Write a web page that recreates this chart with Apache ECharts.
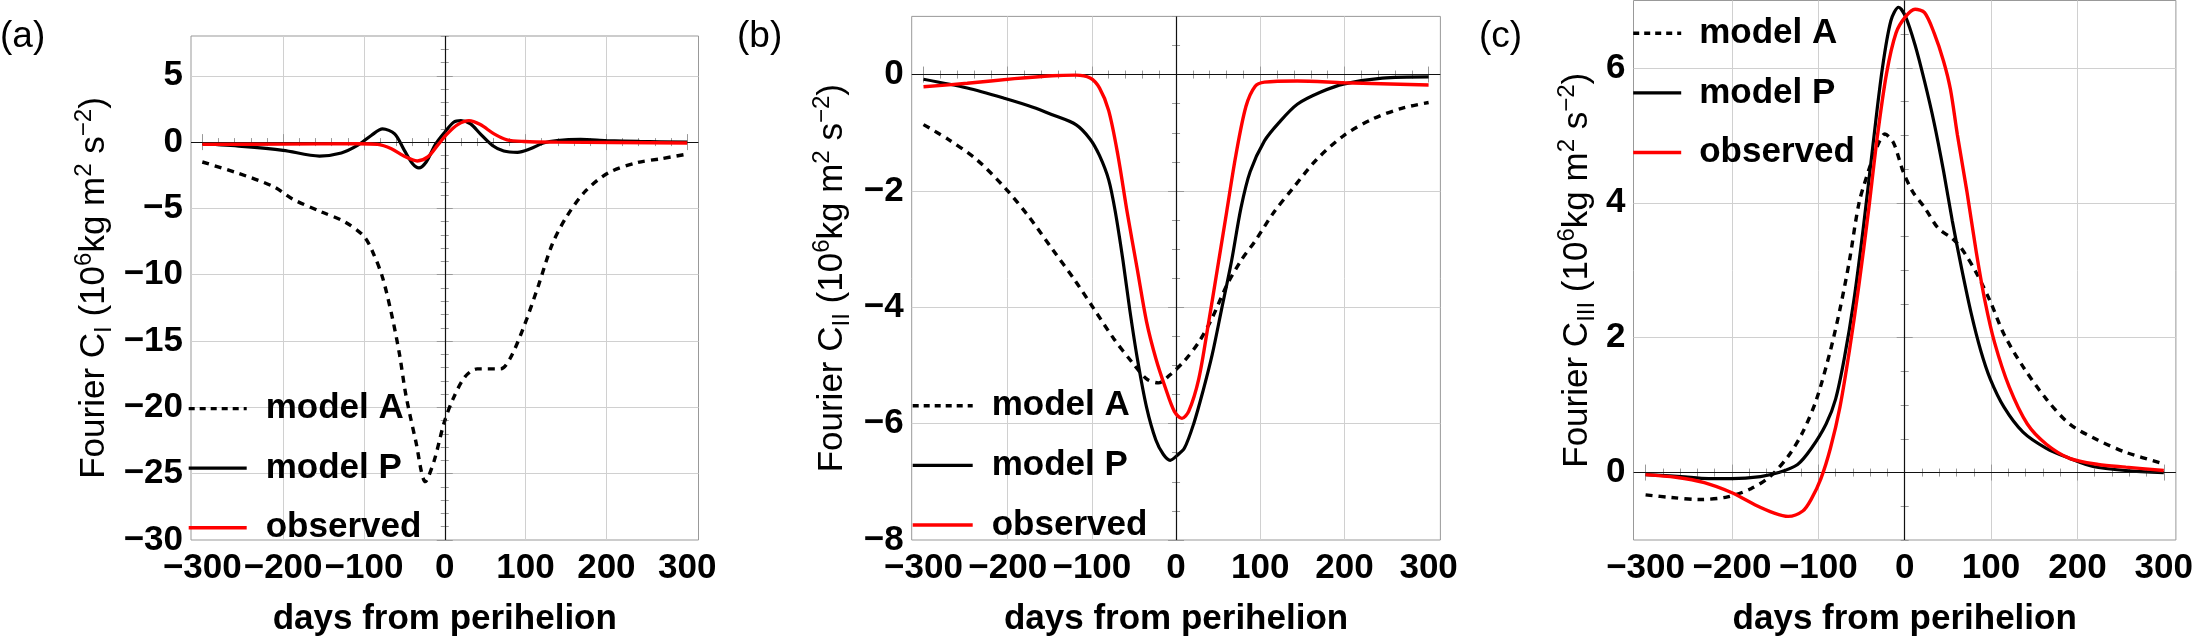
<!DOCTYPE html>
<html><head><meta charset="utf-8">
<script src="https://cdn.jsdelivr.net/npm/echarts@6/dist/echarts.min.js"></script>
<style>html,body{margin:0;padding:0;background:#fff}#c{width:2196px;height:644px}</style>
</head><body><div id="c"></div><script>
// ---------- data (days from perihelion, value in 10^6 kg m^2 s^-2) ----------
const seriesNames = ['model A', 'model P', 'observed'];

const aModelA = [[-300,-1.5],[-258,-2.3],[-212,-3.35],[-188,-4.3],[-153,-5.25],[-124,-6.0],[-100,-7.1],[-89,-8.3],[-77,-10.2],[-65,-13.2],[-56,-16.0],[-48,-19.1],[-36,-22.5],[-24,-25.6],[-13,-24.0],[-1,-21.2],[10,-19.4],[25,-17.7],[40,-17.1],[69,-17.1],[81,-16.3],[98,-13.9],[116,-10.8],[133,-7.7],[151,-5.6],[174,-3.7],[203,-2.3],[238,-1.55],[268,-1.25],[300,-0.9]];
const aModelP = [[-300,-0.12],[-251,-0.32],[-200,-0.62],[-155,-1.05],[-128,-0.82],[-108,-0.25],[-91,0.5],[-77,1.0],[-62,0.62],[-50,-0.62],[-40,-1.62],[-32,-1.95],[-23,-1.5],[-11,-0.12],[0,0.75],[11,1.5],[20,1.62],[32,1.37],[44,0.62],[59,-0.25],[73,-0.67],[90,-0.77],[106,-0.5],[122,-0.07],[139,0.12],[168,0.2],[200,0.12],[241,0.05],[300,0.0]];
const aObserved = [[-300,-0.17],[-200,-0.15],[-108,-0.12],[-83,-0.17],[-66,-0.5],[-50,-1.07],[-34,-1.42],[-21,-1.12],[-9,-0.25],[3,0.62],[16,1.32],[30,1.62],[44,1.32],[61,0.62],[77,0.17],[98,0.05],[139,0.0],[300,-0.07]];

const bModelA = [[-300,-0.86],[-271,-1.11],[-237,-1.46],[-203,-1.95],[-175,-2.44],[-147,-3.0],[-119,-3.56],[-97,-4.04],[-74,-4.54],[-52,-4.95],[-35,-5.23],[-21,-5.3],[-7,-5.16],[10,-4.92],[27,-4.6],[43,-4.18],[60,-3.63],[77,-3.2],[94,-2.86],[116,-2.37],[139,-1.95],[167,-1.46],[200,-1.04],[234,-0.76],[268,-0.58],[300,-0.48]];
const bModelP = [[-300,-0.08],[-248,-0.23],[-203,-0.41],[-170,-0.56],[-147,-0.69],[-119,-0.86],[-102,-1.11],[-91,-1.39],[-80,-1.81],[-72,-2.37],[-63,-3.2],[-55,-4.04],[-46,-4.88],[-35,-5.72],[-24,-6.28],[-15,-6.53],[-7,-6.63],[1,-6.55],[10,-6.42],[21,-6.0],[32,-5.44],[43,-4.81],[54,-4.04],[66,-3.2],[77,-2.3],[88,-1.67],[105,-1.14],[122,-0.83],[144,-0.51],[172,-0.3],[200,-0.16],[245,-0.06],[300,-0.04]];
const bObserved = [[-300,-0.21],[-248,-0.15],[-192,-0.07],[-147,-0.02],[-119,-0.01],[-102,-0.06],[-91,-0.23],[-80,-0.62],[-69,-1.39],[-58,-2.37],[-46,-3.35],[-35,-4.25],[-24,-4.88],[-13,-5.37],[-2,-5.79],[7,-5.91],[15,-5.79],[27,-5.23],[38,-4.32],[49,-3.35],[60,-2.37],[71,-1.39],[83,-0.55],[94,-0.2],[105,-0.13],[144,-0.11],[200,-0.14],[300,-0.18]];

const cModelA = [[-300,-0.33],[-270,-0.37],[-238,-0.4],[-205,-0.36],[-178,-0.24],[-156,-0.06],[-135,0.24],[-118,0.6],[-102,1.09],[-86,1.81],[-75,2.42],[-64,3.14],[-53,3.99],[-42,4.47],[-32,4.83],[-23,5.02],[-13,4.89],[-2,4.47],[9,4.17],[23,3.93],[39,3.62],[55,3.47],[66,3.32],[83,2.96],[99,2.54],[115,2.05],[137,1.57],[164,1.09],[191,0.72],[224,0.48],[256,0.3],[300,0.13]];
const cModelP = [[-300,-0.03],[-259,-0.06],[-227,-0.09],[-200,-0.09],[-167,-0.06],[-146,0.0],[-124,0.12],[-108,0.36],[-91,0.72],[-80,1.09],[-70,1.69],[-59,2.54],[-48,3.62],[-37,4.83],[-26,5.98],[-16,6.7],[-7,6.9],[1,6.76],[12,6.34],[23,5.8],[34,5.19],[45,4.47],[55,3.74],[66,3.02],[77,2.36],[88,1.81],[99,1.39],[115,0.97],[137,0.6],[164,0.36],[191,0.21],[218,0.09],[256,0.03],[300,0.0]];
const cObserved = [[-300,-0.03],[-265,-0.07],[-232,-0.15],[-200,-0.3],[-173,-0.48],[-151,-0.6],[-135,-0.65],[-118,-0.57],[-108,-0.39],[-97,-0.09],[-86,0.36],[-75,0.97],[-64,1.81],[-53,2.78],[-42,3.87],[-32,4.95],[-21,5.92],[-10,6.52],[1,6.76],[12,6.87],[23,6.82],[34,6.52],[45,6.1],[53,5.68],[61,5.01],[72,4.17],[83,3.26],[93,2.54],[104,1.93],[121,1.27],[142,0.72],[164,0.42],[191,0.21],[224,0.12],[256,0.08],[300,0.03]];

// ---------- ticks ----------
const xTickLabels = [-300,-200,-100,0,100,200,300];
const xGridValues = [-200,-100,0,100,200];
const xMinorTicks = [-300,-280,-260,-240,-220,-200,-180,-160,-140,-120,-100,-80,-60,-40,-20,0,20,40,60,80,100,120,140,160,180,200,220,240,260,280,300];

const aYTickLabels = [-30,-25,-20,-15,-10,-5,0,5];
const aYGrid = [-25,-20,-15,-10,-5,0,5];
const aYMinor = [-30,-29,-28,-27,-26,-25,-24,-23,-22,-21,-20,-19,-18,-17,-16,-15,-14,-13,-12,-11,-10,-9,-8,-7,-6,-5,-4,-3,-2,-1,0,1,2,3,4,5,6,7,8];
const bYTickLabels = [-8,-6,-4,-2,0];
const bYGrid = [-6,-4,-2,0];
const bYMinor = [-8,-7.5,-7,-6.5,-6,-5.5,-5,-4.5,-4,-3.5,-3,-2.5,-2,-1.5,-1,-0.5,0,0.5,1];
const cYTickLabels = [0,2,4,6];
const cYGrid = [0,2,4,6];
const cYMinor = [-1,-0.5,0,0.5,1,1.5,2,2.5,3,3.5,4,4.5,5,5.5,6,6.5,7];

const panelLabels = ['(a)', '(b)', '(c)'];
const subscripts = ['I', 'II', 'III'];
const xTitle = 'days from perihelion';

// ---------- layout / style ----------
const FONT = '"Liberation Sans", Arial, Helvetica, sans-serif';
const FRAME = '#999999';
const GRIDC = '#d0d0d0';
const XMIN = -314, XMAX = 314;

const panels = [
  {grid:{left:191, top:36, width:507.5, height:508}, ymin:-30, ymax:8, yLab:aYTickLabels, yGrid:aYGrid, yMinor:aYMinor,
   data:[aModelA, aModelP, aObserved], nameGap:75, legend:{left:187, top:388.6, w:58, pad:14}, title:{left:0}},
  {grid:{left:911.7, top:16.4, width:528.7, height:527.6}, ymin:-8, ymax:1, yLab:bYTickLabels, yGrid:bYGrid, yMinor:bYMinor,
   data:[bModelA, bModelP, bObserved], nameGap:57, legend:{left:911, top:385.8, w:60, pad:14}, title:{left:737}},
  {grid:{left:1633.5, top:0.5, width:544, height:543.5}, ymin:-1, ymax:7, yLab:cYTickLabels, yGrid:cYGrid, yMinor:cYMinor,
   data:[cModelA, cModelP, cObserved], nameGap:34, legend:{left:1631.5, top:13.3, w:48, pad:13}, title:{left:1479}}
];

const lineStyles = [
  {color:'#000000', width:3.4, type:[7,6]},
  {color:'#000000', width:3.2, type:'solid'},
  {color:'#ff0000', width:3.4, type:'solid'}
];
const legendLineStyles = [
  {color:'#000000', width:3.4, type:[6,5]},
  {color:'#000000', width:3.2, type:'solid'},
  {color:'#ff0000', width:3.4, type:'solid'}
];

const minus = v => String(v).replace('-', '\u2212');
const tickStyle = {color: FRAME, width: 1};
const hidden = {axisLine:{show:false}, axisLabel:{show:false}, axisTick:{show:false}, splitLine:{show:false}};

const option = {animation:false, backgroundColor:'#ffffff', title:[], legend:[], grid:[], xAxis:[], yAxis:[], series:[]};

panels.forEach((p, i) => {
  option.grid.push({left:p.grid.left, top:p.grid.top, width:p.grid.width, height:p.grid.height,
    show:true, borderColor:FRAME, borderWidth:1, backgroundColor:'transparent'});
  option.title.push({text:panelLabels[i], left:p.title.left, top:18, padding:0,
    textStyle:{fontFamily:FONT, fontWeight:'normal', fontSize:37, color:'#000'}});

  const bx = (extra) => Object.assign({type:'value', gridIndex:i, min:XMIN, max:XMAX}, JSON.parse(JSON.stringify(hidden)), extra);
  option.xAxis.push(bx({position:'bottom',
    axisLabel:{show:true, customValues:xTickLabels, formatter:minus, margin:11, fontFamily:FONT, fontWeight:'bold', fontSize:35, color:'#000'},
    axisTick:{show:true, inside:true, length:8, customValues:xTickLabels, lineStyle:tickStyle},
    name:xTitle, nameLocation:'middle', nameGap:59,
    nameTextStyle:{fontFamily:FONT, fontWeight:'bold', fontSize:35, color:'#000', lineHeight:40}}));
  option.xAxis.push(bx({position:'bottom', axisTick:{show:true, inside:true, length:4, customValues:xMinorTicks, lineStyle:tickStyle}}));
  option.xAxis.push(bx({position:'top', axisTick:{show:true, inside:true, length:8, customValues:xTickLabels, lineStyle:tickStyle}}));
  option.xAxis.push(bx({position:'top', axisTick:{show:true, inside:true, length:4, customValues:xMinorTicks, lineStyle:tickStyle}}));
  option.xAxis.push(bx({position:'bottom', axisTick:{show:false, customValues:xGridValues}, splitLine:{show:true, lineStyle:{color:GRIDC, width:1}}}));

  const by = (extra) => Object.assign({type:'value', gridIndex:i, min:p.ymin, max:p.ymax}, JSON.parse(JSON.stringify(hidden)), extra);
  option.yAxis.push(by({position:'left',
    axisLabel:{show:true, customValues:p.yLab, formatter:minus, margin:8, fontFamily:FONT, fontWeight:'bold', fontSize:35, color:'#000'},
    axisTick:{show:true, inside:true, length:8, customValues:p.yLab, lineStyle:tickStyle},
    name:'{n|Fourier C}{sb|' + subscripts[i] + '}{n| (10}{sp|6}{n|kg m}{sp|2}{n| s}{sp|\u22122}{n|)}',
    nameLocation:'middle', nameRotate:90, nameGap:p.nameGap,
    nameTextStyle:{fontFamily:FONT, fontSize:35, color:'#000', lineHeight:44,
      rich:{n:{fontFamily:FONT, fontSize:35, color:'#000', lineHeight:44},
            sb:{fontFamily:FONT, fontSize:24, color:'#000', lineHeight:24, verticalAlign:'bottom'},
            sp:{fontFamily:FONT, fontSize:24, color:'#000', lineHeight:26, verticalAlign:'top'}}}}));
  option.yAxis.push(by({position:'left', axisTick:{show:true, inside:true, length:4, customValues:p.yMinor, lineStyle:tickStyle}}));
  option.yAxis.push(by({position:'right', axisTick:{show:true, inside:true, length:8, customValues:p.yLab, lineStyle:tickStyle}}));
  option.yAxis.push(by({position:'right', axisTick:{show:true, inside:true, length:4, customValues:p.yMinor, lineStyle:tickStyle}}));
  option.yAxis.push(by({position:'left', axisTick:{show:false, customValues:p.yGrid}, splitLine:{show:true, lineStyle:{color:GRIDC, width:1}}}));

  seriesNames.forEach((nm, k) => {
    const s = {name:nm, type:'line', xAxisIndex:5*i, yAxisIndex:5*i, data:p.data[k],
      symbol:'none', showSymbol:false, smooth:0.3, emphasis:{disabled:true}, silent:true,
      lineStyle:lineStyles[k], itemStyle:{color:lineStyles[k].color}, z:3+k};
    if (k === 0) {
      s.markLine = {silent:true, symbol:['none','none'], label:{show:false}, animation:false,
        lineStyle:{color:'#111', width:1.2, type:'solid'}, emphasis:{disabled:true},
        data:[{yAxis:0}, {xAxis:0}]};
    }
    option.series.push(s);
  });

  option.legend.push({orient:'vertical', left:p.legend.left, top:p.legend.top, padding:0,
    itemWidth:p.legend.w, itemHeight:14, itemGap:19.6, selectedMode:false,
    data:seriesNames.map((nm, k) => ({name:nm, lineStyle:legendLineStyles[k], itemStyle:{opacity:0, borderWidth:0}})),
    textStyle:{fontFamily:FONT, fontWeight:'bold', fontSize:35, color:'#000', lineHeight:40, padding:[0,0,0,p.legend.pad]}});
});

const chart = echarts.init(document.getElementById('c'), null, {renderer:'canvas', width:2196, height:644});
chart.setOption(option);
</script></body></html>
